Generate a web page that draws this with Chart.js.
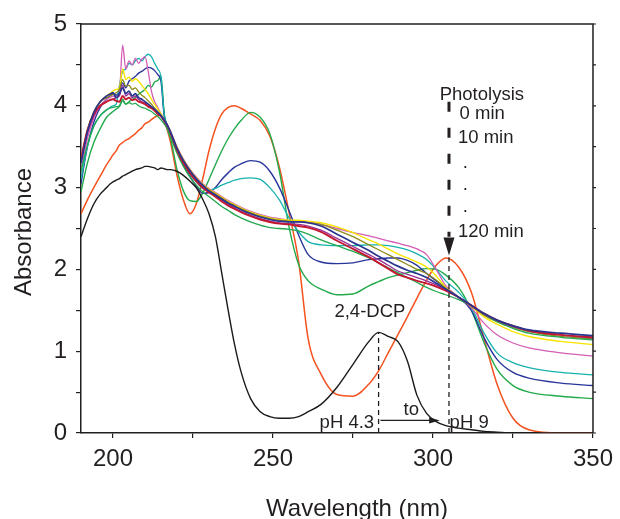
<!DOCTYPE html>
<html>
<head>
<meta charset="utf-8">
<title>2,4-DCP photolysis spectra</title>
<script src="https://cdn.jsdelivr.net/npm/chart.js@4.4.1/dist/chart.umd.min.js"></script>
<style>
  html, body { margin: 0; padding: 0; background: #fff; }
  #chart { display: block; }
</style>
</head>
<body>
<canvas id="chart" width="620" height="519"></canvas>
<script>
// wavelength grid (nm), shared by every spectrum
const wavelength = [
  190, 192, 194, 196, 198,
  199, 200, 201, 202, 203, 204, 205, 206, 207, 208, 209, 210, 211, 212, 213, 214, 215, 216, 217, 218,
  220, 222, 224, 226, 228, 230, 232, 234, 236, 238, 240,
  243, 246, 249, 252, 255, 258, 261, 265,
  270, 275, 280, 283, 286, 289, 292, 295, 298, 301, 304,
  308, 312, 316, 320, 325, 330, 340, 350
];

// 2,4-DCP at pH 4.3
const absDcpPh43 = [
  2.4, 2.62, 2.8, 2.92, 3.0,
  3.04, 3.07, 3.09, 3.11, 3.14, 3.16, 3.18, 3.2, 3.22, 3.23, 3.24, 3.26, 3.26, 3.25, 3.24, 3.22, 3.24, 3.23, 3.22, 3.22,
  3.2, 3.15, 3.08, 3.0, 2.86, 2.68, 2.4, 1.95, 1.5, 1.08, 0.75,
  0.42, 0.26, 0.2, 0.18, 0.18, 0.2, 0.26, 0.35,
  0.56, 0.84, 1.12, 1.23, 1.18, 1.12, 0.88, 0.46, 0.24, 0.14, 0.09,
  0.06, 0.04, 0.02, 0.01, 0, 0, 0, 0
];
// pH 9, photolysis 0 min
const abs0min = [
  2.68, 2.85, 3.0, 3.14, 3.28,
  3.34, 3.4, 3.45, 3.52, 3.55, 3.58, 3.6, 3.63, 3.66, 3.7, 3.73, 3.78, 3.8, 3.83, 3.86, 3.88, 3.89, 3.8, 3.7, 3.55,
  3.15, 2.85, 2.68, 2.8, 3.1, 3.45, 3.72, 3.9, 3.98, 4.0, 3.97,
  3.9, 3.82, 3.63, 3.25, 2.7, 2.1, 1.15, 0.72,
  0.47, 0.45, 0.6, 0.76, 0.98, 1.2, 1.42, 1.65, 1.87, 2.05, 2.14,
  2.03, 1.72, 1.15, 0.6, 0.18, 0.04, 0, 0
];
const abs10min = [
  2.95, 3.3, 3.55, 3.72, 3.86,
  3.9, 3.93, 3.96, 3.99, 4.06, 4.02, 4.05, 4.08, 4.1, 4.14, 4.17, 4.2, 4.25, 4.23, 4.29, 4.31, 4.36, 3.9, 3.72, 3.6,
  3.22, 2.96, 2.84, 2.83, 2.93, 3.1, 3.28, 3.45, 3.6, 3.72, 3.82,
  3.92, 3.86, 3.66, 3.2, 2.52, 2.06, 1.86, 1.76,
  1.69, 1.7, 1.8, 1.85, 1.9, 1.93, 1.96, 1.99, 2.01, 2.0, 1.93,
  1.78, 1.5, 1.1, 0.78, 0.58, 0.5, 0.45, 0.42
];
const abs20min = [
  3.05, 3.5, 3.8, 3.98, 4.08,
  4.12, 4.15, 4.13, 4.18, 4.28, 4.22, 4.3, 4.33, 4.36, 4.4, 4.42, 4.45, 4.47, 4.46, 4.43, 4.38, 4.3, 3.88, 3.76, 3.66,
  3.45, 3.28, 3.14, 3.02, 2.93, 2.94, 3.0, 3.1, 3.18, 3.25, 3.29,
  3.33, 3.31, 3.2, 3.0, 2.72, 2.42, 2.18, 2.09,
  2.07, 2.08, 2.12, 2.13, 2.14, 2.14, 2.11, 2.05, 1.95, 1.86, 1.77,
  1.66, 1.5, 1.16, 0.9, 0.74, 0.67, 0.61, 0.58
];
const abs30min = [
  3.1, 3.5, 3.75, 3.88, 3.95,
  3.98, 4.0, 4.02, 4.25, 4.42, 4.45, 4.52, 4.5, 4.55, 4.58, 4.55, 4.6, 4.63, 4.6, 4.52, 4.45, 4.35, 3.9, 3.76, 3.66,
  3.46, 3.3, 3.17, 3.07, 2.99, 2.97, 2.99, 3.03, 3.06, 3.09, 3.11,
  3.12, 3.1, 3.0, 2.85, 2.63, 2.46, 2.34, 2.3,
  2.29, 2.29, 2.3, 2.3, 2.29, 2.27, 2.24, 2.19, 2.12, 2.0, 1.86,
  1.72, 1.53, 1.22, 0.98, 0.86, 0.8, 0.74, 0.71
];
const abs40min = [
  3.2, 3.6, 3.85, 4.0, 4.08,
  4.1, 4.12, 4.1, 4.15, 4.74, 4.45, 4.55, 4.5, 4.58, 4.52, 4.57, 4.6, 4.42, 4.18, 4.05, 3.98, 3.9, 3.82, 3.75, 3.68,
  3.5, 3.35, 3.23, 3.13, 3.05, 2.99, 2.94, 2.89, 2.84, 2.8, 2.76,
  2.71, 2.67, 2.64, 2.62, 2.6, 2.59, 2.58, 2.55,
  2.5, 2.45, 2.41, 2.38, 2.35, 2.32, 2.29, 2.25, 2.18, 2.0, 1.8,
  1.66, 1.53, 1.34, 1.2, 1.1, 1.04, 0.98, 0.94
];
const abs50min = [
  3.35, 3.7, 3.92, 4.05, 4.12,
  4.15, 4.18, 4.2, 4.22, 4.45, 4.32, 4.35, 4.3, 4.33, 4.3, 4.25, 4.2, 4.15, 4.08, 4.02, 3.96, 3.9, 3.83, 3.76, 3.67,
  3.49, 3.34, 3.22, 3.12, 3.04, 2.98, 2.93, 2.88, 2.83, 2.79, 2.75,
  2.7, 2.66, 2.63, 2.61, 2.6, 2.6, 2.59, 2.57,
  2.52, 2.45, 2.36, 2.31, 2.25, 2.19, 2.14, 2.09, 2.03, 1.92, 1.78,
  1.66, 1.55, 1.42, 1.33, 1.24, 1.18, 1.12, 1.08
];
const abs60min = [
  3.35, 3.7, 3.92, 4.05, 4.1,
  4.12, 4.14, 4.16, 4.2, 4.32, 4.24, 4.25, 4.2, 4.22, 4.17, 4.13, 4.1, 4.06, 4.02, 3.97, 3.93, 3.88, 3.82, 3.75, 3.67,
  3.48, 3.33, 3.21, 3.11, 3.03, 2.97, 2.92, 2.87, 2.82, 2.78, 2.74,
  2.69, 2.65, 2.62, 2.6, 2.59, 2.58, 2.57, 2.55,
  2.48, 2.4, 2.3, 2.24, 2.18, 2.12, 2.06, 2.0, 1.95, 1.87, 1.77,
  1.66, 1.55, 1.44, 1.36, 1.29, 1.24, 1.18, 1.15
];
const abs80min = [
  3.3, 3.66, 3.88, 4.0, 4.05,
  4.07, 4.08, 4.1, 4.12, 4.25, 4.12, 4.15, 4.1, 4.12, 4.08, 4.05, 4.03, 4.0, 3.98, 3.95, 3.92, 3.87, 3.81, 3.74, 3.66,
  3.46, 3.31, 3.19, 3.09, 3.01, 2.95, 2.9, 2.85, 2.8, 2.75, 2.71,
  2.66, 2.62, 2.59, 2.57, 2.56, 2.55, 2.53, 2.48,
  2.38, 2.28, 2.18, 2.12, 2.05, 1.98, 1.94, 1.9, 1.86, 1.81, 1.75,
  1.66, 1.56, 1.45, 1.37, 1.3, 1.25, 1.2, 1.16
];
const abs90min = [
  3.2, 3.52, 3.75, 3.88, 3.95,
  3.97, 3.98, 3.99, 4.0, 4.08, 4.02, 4.04, 4.02, 4.03, 4.0, 3.98, 3.97, 3.95, 3.93, 3.9, 3.87, 3.83, 3.78, 3.72, 3.62,
  3.42, 3.26, 3.13, 3.03, 2.95, 2.89, 2.83, 2.77, 2.72, 2.67, 2.63,
  2.58, 2.54, 2.51, 2.5, 2.49, 2.47, 2.43, 2.36,
  2.29, 2.22, 2.14, 2.08, 2.02, 1.96, 1.9, 1.84, 1.78, 1.73, 1.69,
  1.63, 1.56, 1.45, 1.36, 1.28, 1.22, 1.17, 1.14
];
const abs100min = [
  3.35, 3.7, 3.9, 4.0, 4.05,
  4.07, 4.08, 4.06, 4.05, 4.12, 4.08, 4.1, 4.07, 4.08, 4.05, 4.04, 4.02, 3.99, 3.97, 3.94, 3.9, 3.87, 3.82, 3.76, 3.67,
  3.46, 3.3, 3.18, 3.08, 3.0, 2.94, 2.89, 2.83, 2.78, 2.74, 2.7,
  2.65, 2.61, 2.58, 2.56, 2.55, 2.53, 2.51, 2.46,
  2.35, 2.25, 2.15, 2.08, 2.01, 1.94, 1.9, 1.86, 1.83, 1.79, 1.74,
  1.66, 1.56, 1.46, 1.38, 1.31, 1.25, 1.2, 1.17
];
const abs120min = [
  3.3, 3.68, 3.92, 4.05, 4.12,
  4.14, 4.16, 4.1, 4.15, 4.22, 4.15, 4.18, 4.12, 4.15, 4.1, 4.08, 4.05, 4.02, 3.99, 3.96, 3.92, 3.88, 3.83, 3.76, 3.68,
  3.48, 3.33, 3.21, 3.11, 3.03, 2.96, 2.91, 2.86, 2.81, 2.77, 2.73,
  2.68, 2.64, 2.61, 2.59, 2.58, 2.58, 2.57, 2.53,
  2.43, 2.33, 2.23, 2.16, 2.1, 2.04, 1.99, 1.95, 1.9, 1.83, 1.76,
  1.66, 1.56, 1.46, 1.38, 1.31, 1.26, 1.22, 1.19
];

const xTicks = [200, 225, 250, 275, 300, 325, 350];
const xTickLabels = [200, 250, 300, 350];
const yTicks = [0, 0.5, 1, 1.5, 2, 2.5, 3, 3.5, 4, 4.5, 5];
const yTickLabels = [0, 1, 2, 3, 4, 5];

// first entry is drawn on top
const series = [
  { label: '2,4-DCP pH 4.3', values: absDcpPh43, color: '#1a1a1a', width: 1.4 },
  { label: '120 min', values: abs120min, color: '#2a3590', width: 1.7 },
  { label: '100 min', values: abs100min, color: '#c3182f', width: 1.9 },
  { label: '90 min', values: abs90min, color: '#22a84e', width: 1.3 },
  { label: '80 min', values: abs80min, color: '#9a2e98', width: 1.3 },
  { label: '60 min', values: abs60min, color: '#8d8c1c', width: 1.3 },
  { label: '50 min', values: abs50min, color: '#f7e500', width: 1.4 },
  { label: '40 min', values: abs40min, color: '#d45db6', width: 1.3 },
  { label: '30 min', values: abs30min, color: '#17b2ae', width: 1.3 },
  { label: '20 min', values: abs20min, color: '#28359a', width: 1.4 },
  { label: '10 min', values: abs10min, color: '#22aa4b', width: 1.4 },
  { label: '0 min', values: abs0min, color: '#f4521f', width: 1.5 }
];

const FONT = '"Liberation Sans", Arial, Helvetica, sans-serif';
const INK = '#231f20';

const annotationPlugin = {
  id: 'annotations',
  afterDatasetsDraw(chart) {
    const ctx = chart.ctx;
    const area = chart.chartArea;
    const X = v => chart.scales.x.getPixelForValue(v);
    const Y = v => chart.scales.y.getPixelForValue(v);
    ctx.save();

    // top and right frame
    ctx.strokeStyle = INK;
    ctx.lineWidth = 1.5;
    ctx.beginPath();
    ctx.moveTo(area.left, area.top);
    ctx.lineTo(area.right, area.top);
    ctx.lineTo(area.right, area.bottom);
    ctx.stroke();
    ctx.lineWidth = 1.2;
    ctx.beginPath();
    yTicks.forEach(v => {
      ctx.moveTo(area.right, Y(v));
      ctx.lineTo(area.right + 3, Y(v));
    });
    ctx.stroke();

    // thin dashed markers at the two maxima
    ctx.lineWidth = 1.3;
    ctx.setLineDash([5, 4]);
    ctx.beginPath();
    ctx.moveTo(X(283), Y(0));
    ctx.lineTo(X(283), Y(1.23));
    ctx.moveTo(X(305), Y(0));
    ctx.lineTo(X(305), Y(2.15));
    ctx.stroke();

    // photolysis arrow
    ctx.lineWidth = 3;
    ctx.setLineDash([10, 16]);
    ctx.beginPath();
    ctx.moveTo(X(305), Y(4.05));
    ctx.lineTo(X(305), Y(2.4));
    ctx.stroke();
    ctx.setLineDash([]);
    ctx.fillStyle = INK;
    ctx.beginPath();
    ctx.moveTo(X(305), Y(2.17));
    ctx.lineTo(X(305) - 5.5, Y(2.39));
    ctx.lineTo(X(305) + 5.5, Y(2.39));
    ctx.closePath();
    ctx.fill();

    // pH arrow
    const ya = Y(0.154);
    ctx.lineWidth = 1.3;
    ctx.beginPath();
    ctx.moveTo(X(283.6), ya);
    ctx.lineTo(X(299), ya);
    ctx.stroke();
    ctx.beginPath();
    ctx.moveTo(X(302.1), ya);
    ctx.lineTo(X(298.8), ya - 3.2);
    ctx.lineTo(X(298.8), ya + 3.2);
    ctx.closePath();
    ctx.fill();

    // labels
    ctx.font = '18.5px ' + FONT;
    ctx.textBaseline = 'alphabetic';
    ctx.textAlign = 'left';
    ctx.fillText('Photolysis', X(302.1), Y(4.07));
    ctx.fillText('0 min', X(308.3), Y(3.84));
    ctx.fillText('10 min', X(307.8), Y(3.55));
    ctx.fillText('.', X(309.3), Y(3.24));
    ctx.fillText('.', X(309.3), Y(2.97));
    ctx.fillText('.', X(309.3), Y(2.70));
    ctx.fillText('120 min', X(307.8), Y(2.40));
    ctx.fillText('2,4-DCP', X(269.2), Y(1.42));
    ctx.fillText('to', X(290.8), Y(0.22));
    ctx.fillText('pH 9', X(305.2), Y(0.065));
    ctx.textAlign = 'right';
    ctx.fillText('pH 4.3', X(281.6), Y(0.065));

    // axis titles
    ctx.font = '24px ' + FONT;
    ctx.textAlign = 'center';
    ctx.fillText('Wavelength (nm)', 357, 516);
    ctx.translate(31, 232);
    ctx.rotate(-Math.PI / 2);
    ctx.fillText('Absorbance', 0, 0);
    ctx.restore();
  }
};

const tickFont = { family: FONT, size: 24 };

new Chart(document.getElementById('chart').getContext('2d'), {
  type: 'line',
  data: {
    datasets: series.map(s => ({
      label: s.label,
      data: wavelength.map((w, i) => ({ x: w, y: s.values[i] })),
      borderColor: s.color,
      borderWidth: s.width,
      pointRadius: 0,
      fill: false,
      cubicInterpolationMode: 'monotone'
    }))
  },
  options: {
    responsive: false,
    animation: false,
    devicePixelRatio: 1,
    layout: { padding: { left: 0, right: 22, top: 24, bottom: 0 } },
    plugins: { legend: { display: false }, tooltip: { enabled: false } },
    scales: {
      x: {
        type: 'linear',
        min: 190,
        max: 350,
        afterBuildTicks: s => { s.ticks = xTicks.map(v => ({ value: v })); },
        afterFit: s => { s.height = 86; },
        grid: { drawOnChartArea: false, tickLength: 5, color: INK, lineWidth: 1.2 },
        border: { color: INK, width: 1.5 },
        ticks: {
          font: tickFont,
          color: INK,
          padding: 7,
          maxRotation: 0,
          autoSkip: false,
          callback: v => xTickLabels.includes(v) ? String(v) : ''
        }
      },
      y: {
        type: 'linear',
        min: 0,
        max: 5,
        afterBuildTicks: s => { s.ticks = yTicks.map(v => ({ value: v })); },
        afterFit: s => { s.width = 81; },
        grid: { drawOnChartArea: false, tickLength: 5, color: INK, lineWidth: 1.2 },
        border: { color: INK, width: 1.5 },
        ticks: {
          font: tickFont,
          color: INK,
          padding: 9,
          autoSkip: false,
          callback: v => yTickLabels.includes(v) ? String(v) : ''
        }
      }
    }
  },
  plugins: [annotationPlugin]
});
</script>
</body>
</html>
